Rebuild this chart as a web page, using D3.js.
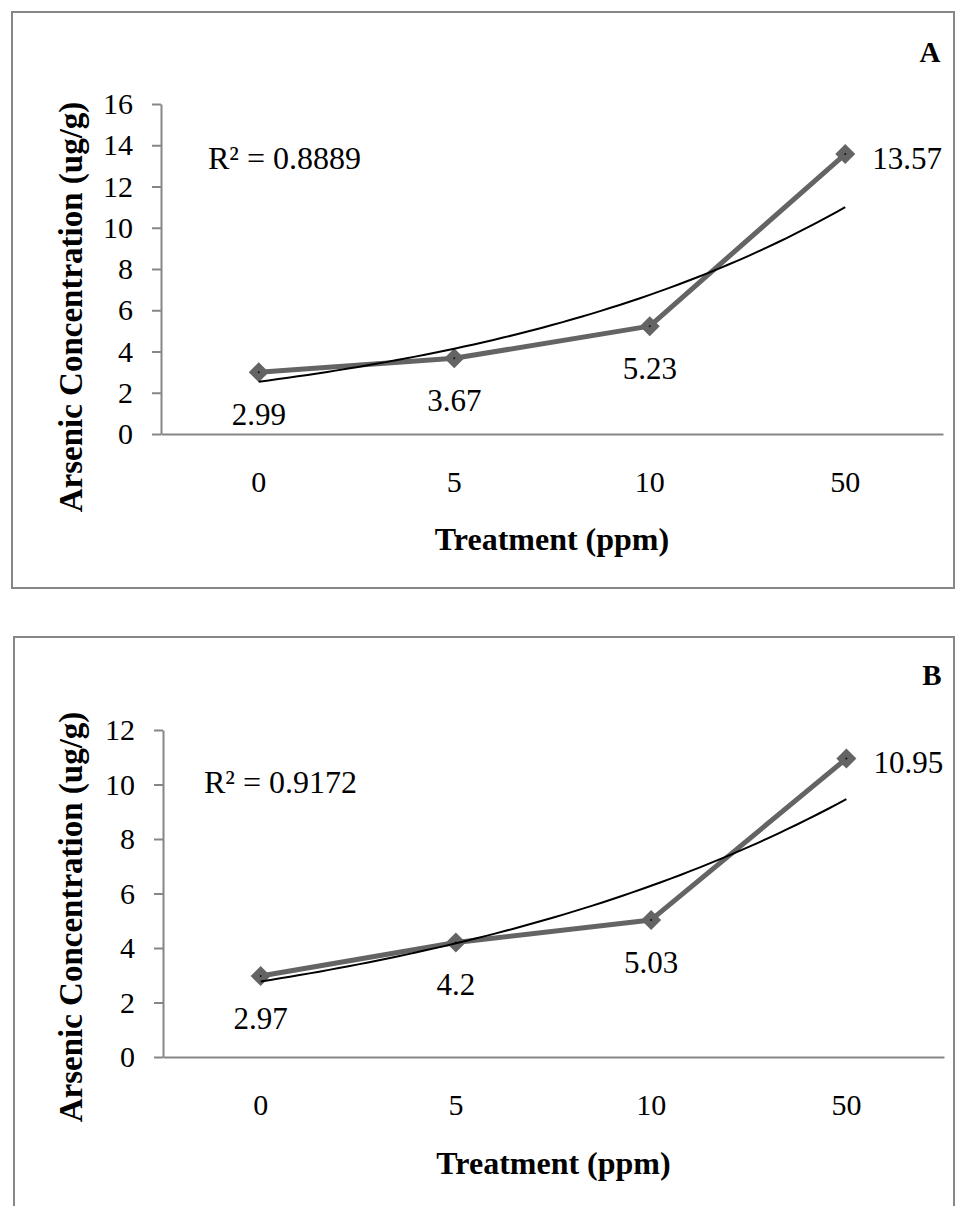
<!DOCTYPE html>
<html>
<head>
<meta charset="utf-8">
<script src="https://cdn.jsdelivr.net/npm/d3@7"></script>
<style>
  body { margin: 0; background: #fff; }
  text { font-family: "Liberation Serif", "Times New Roman", serif; fill: #000; }
</style>
</head>
<body>
<div id="chart"></div>
<script>
// data
const categories = ["0", "5", "10", "50"];
const valuesA = [2.99, 3.67, 5.23, 13.57];
const valuesB = [2.97, 4.2, 5.03, 10.95];
const yTicksA = [0, 2, 4, 6, 8, 10, 12, 14, 16];
const yTicksB = [0, 2, 4, 6, 8, 10, 12];
const r2A = "R² = 0.8889";
const r2B = "R² = 0.9172";
const panelNames = ["A", "B"];
const yTitle = "Arsenic Concentration (ug/g)";
const xTitle = "Treatment (ppm)";

const svg = d3.select("#chart")
    .append("svg")
    .attr("width", 956)
    .attr("height", 1206);

// exponential trendline like excel: ln(y) = ln(a) + b*x, x = 1..n
function expFit(values) {
    const xs = values.map((v, i) => i + 1);
    const ls = values.map(v => Math.log(v));
    const mx = d3.mean(xs), ml = d3.mean(ls);
    const b = d3.sum(xs, (x, i) => (x - mx) * (ls[i] - ml)) / d3.sum(xs, x => (x - mx) ** 2);
    const lnA = ml - b * mx;
    return x => Math.exp(lnA + b * x);
}

function drawPanel(cfg) {
    const g = svg.append("g");

    // outer frame
    g.append("rect")
        .attr("x", cfg.frame[0])
        .attr("y", cfg.frame[1])
        .attr("width", cfg.frame[2])
        .attr("height", cfg.frame[3])
        .attr("fill", "none")
        .attr("stroke", "#878787")
        .attr("stroke-width", 2);

    const x = d3.scaleBand()
        .domain(categories)
        .range([cfg.left, cfg.right]);
    const xIdx = d3.scaleLinear()
        .domain([0, categories.length - 1])
        .range([x(categories[0]) + x.bandwidth() / 2, x(categories[categories.length - 1]) + x.bandwidth() / 2]);
    const y = d3.scaleLinear()
        .domain([0, d3.max(cfg.ticks)])
        .range([cfg.bottom, cfg.top]);

    // y axis
    const yAxis = g.append("g")
        .attr("transform", `translate(${cfg.left},0)`)
        .call(d3.axisLeft(y).tickValues(cfg.ticks).tickSize(9).tickPadding(19).tickSizeOuter(0));
    yAxis.select(".domain").attr("stroke", "#868686").attr("stroke-width", 2);
    yAxis.selectAll(".tick line").attr("stroke", "#868686").attr("stroke-width", 2);
    yAxis.selectAll(".tick text")
        .style("font-family", "'Liberation Serif', serif")
        .style("font-size", "30px")
        .attr("fill", "#000");

    // x axis, no ticks
    const xAxis = g.append("g")
        .attr("transform", `translate(0,${cfg.bottom})`)
        .call(d3.axisBottom(x).tickSize(0).tickPadding(37).tickSizeOuter(0));
    xAxis.select(".domain").attr("stroke", "#868686").attr("stroke-width", 2);
    xAxis.selectAll(".tick text")
        .style("font-family", "'Liberation Serif', serif")
        .style("font-size", "30px")
        .attr("fill", "#000");

    // series line
    const line = d3.line()
        .x((d, i) => xIdx(i))
        .y(d => y(d));
    g.append("path")
        .datum(cfg.values)
        .attr("d", line)
        .attr("fill", "none")
        .attr("stroke", "#646464")
        .attr("stroke-width", 5)
        .attr("stroke-linejoin", "round");

    // markers
    g.selectAll(".marker")
        .data(cfg.values)
        .enter()
        .append("path")
        .attr("class", "marker")
        .attr("d", d3.symbol(d3.symbolSquare, 200))
        .attr("transform", (d, i) => `translate(${xIdx(i)},${y(d)}) rotate(45)`)
        .attr("fill", "#646464");

    g.selectAll(".dot")
        .data(cfg.values)
        .enter()
        .append("circle")
        .attr("class", "dot")
        .attr("cx", (d, i) => xIdx(i))
        .attr("cy", d => y(d))
        .attr("r", 1)
        .attr("fill", "#111");

    // trendline
    const fit = expFit(cfg.values);
    const trendPts = d3.range(0, categories.length - 1 + 0.001, 0.05);
    g.append("path")
        .datum(trendPts)
        .attr("d", d3.line().x(t => xIdx(t)).y(t => y(fit(t + 1))))
        .attr("fill", "none")
        .attr("stroke", "#000")
        .attr("stroke-width", 2);

    // data labels
    g.selectAll(".lbl")
        .data(cfg.values)
        .enter()
        .append("text")
        .attr("class", "lbl")
        .attr("x", (d, i) => i === cfg.values.length - 1 ? xIdx(i) + 27 : xIdx(i))
        .attr("y", (d, i) => i === cfg.values.length - 1 ? y(d) + 4 : y(d) + 42)
        .attr("dy", "0.35em")
        .attr("text-anchor", (d, i) => i === cfg.values.length - 1 ? "start" : "middle")
        .style("font-size", "31px")
        .text(d => d);

    // R squared
    g.append("text")
        .attr("x", cfg.r2Pos[0])
        .attr("y", cfg.r2Pos[1])
        .attr("dy", "0.35em")
        .style("font-size", "32px")
        .text(cfg.r2);

    // panel letter
    g.append("text")
        .attr("x", cfg.letterPos[0])
        .attr("y", cfg.letterPos[1])
        .attr("dy", "0.35em")
        .attr("text-anchor", "middle")
        .style("font-size", "29px")
        .style("font-weight", "bold")
        .text(cfg.name);

    // axis titles
    g.append("text")
        .attr("transform", `translate(${cfg.yTitlePos[0]},${cfg.yTitlePos[1]}) rotate(-90)`)
        .attr("dy", "0.35em")
        .attr("text-anchor", "middle")
        .style("font-size", "33px")
        .style("font-weight", "bold")
        .text(yTitle);

    g.append("text")
        .attr("x", (cfg.left + cfg.right) / 2)
        .attr("y", cfg.xTitleY)
        .attr("dy", "0.35em")
        .attr("text-anchor", "middle")
        .style("font-size", "32px")
        .style("font-weight", "bold")
        .text(xTitle);
}

drawPanel({
    name: panelNames[0], values: valuesA, ticks: yTicksA, r2: r2A,
    frame: [12, 12, 942, 576],
    left: 161, right: 943, top: 104, bottom: 434,
    r2Pos: [208, 158], letterPos: [930, 52],
    yTitlePos: [70, 307], xTitleY: 539
});

drawPanel({
    name: panelNames[1], values: valuesB, ticks: yTicksB, r2: r2B,
    frame: [14, 637, 940, 620],
    left: 163, right: 944, top: 730, bottom: 1057,
    r2Pos: [204, 782], letterPos: [932, 675],
    yTitlePos: [70, 917], xTitleY: 1163
});
</script>
</body>
</html>
